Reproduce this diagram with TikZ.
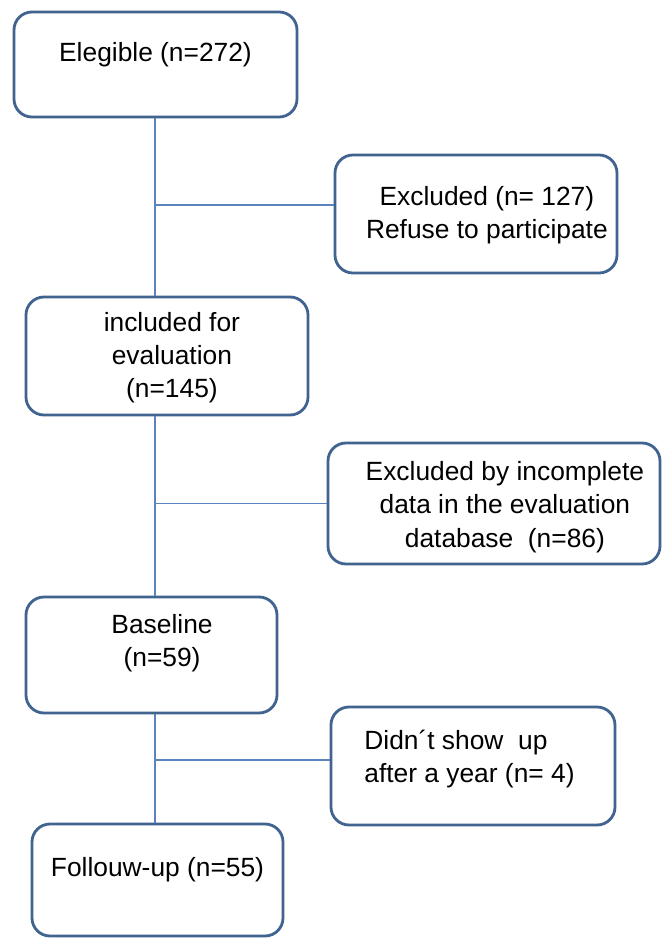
\documentclass[tikz,border=0pt]{standalone}
\usepackage{fontspec}
\setmainfont{Liberation Sans}
\usepackage{tikz}
\usetikzlibrary{positioning}

\definecolor{boxline}{HTML}{41638F}
\definecolor{linkline}{HTML}{5B84BE}

\begin{document}
\begin{tikzpicture}[
            x=0.02cm,y=-0.02cm,
            font=\fontsize{15}{19}\selectfont,
            stage/.style={draw=boxline,line width=1.6pt,rounded corners=0.36cm,fill=white},
            txt/.style={align=center,inner sep=0pt},
            link/.style={draw=linkline,line width=0.8pt}
          ]
          \useasboundingbox[fill=white] (0,0) rectangle (663,939);

          %main stages
          \node[stage,minimum width=283*0.02cm,minimum height=105*0.02cm,
                label={[txt,yshift=5.4pt]center:Elegible (n=272)}] (elig) at (155.5,64.5) {};
          \node[stage,minimum width=282*0.02cm,minimum height=118*0.02cm,
                label={[txt,xshift=2.8pt,yshift=-1pt]center:included for\\evaluation\\(n=145)}] (incl) at (167,356) {};
          \node[stage,minimum width=251*0.02cm,minimum height=116*0.02cm,
                label={[txt,xshift=6pt,yshift=6.8pt]center:Baseline\\(n=59)}] (base) at (151.5,655) {};
          \node[stage,minimum width=251*0.02cm,minimum height=112*0.02cm,
                label={[txt,yshift=5.7pt]center:Follouw-up (n=55)}] (follow) at (157.5,880) {};

          %exclusions
          \node[stage,minimum width=282*0.02cm,minimum height=118*0.02cm,
                label={[txt,xshift=6.2pt,yshift=-0.5pt]center:Excluded (n= 127)\\Refuse to participate}] (excl1) at (476,214) {};
          \node[stage,minimum width=332*0.02cm,minimum height=121*0.02cm,
                label={[txt,xshift=6.2pt,yshift=-2pt]center:Excluded by incomplete\\data in the evaluation\\database~ (n=86)}] (excl2) at (494,503.5) {};
          \node[stage,minimum width=284*0.02cm,minimum height=118*0.02cm,
                label={[txt,align=left,xshift=-2pt,yshift=4pt]center:Didn\textasciiacute t show~ up\\after a year (n= 4)}] (noshow) at (473,766) {};

          %connectors
          \coordinate (spine) at (155,0);
          \coordinate (e1) at ([yshift=0.18cm]excl1.west);
          \coordinate (e2) at (excl2.west);
          \coordinate (e3) at ([yshift=0.12cm]noshow.west);
          \path[link]
          (spine |- elig.south) -- (spine |- incl.north)
          (spine |- incl.south) -- (spine |- base.north)
          (spine |- base.south) -- (spine |- follow.north)
          (spine |- e1) -- (e1)
          (spine |- e2) -- (e2)
          (spine |- e3) -- (e3)
          ;

      \end{tikzpicture}
\end{document}
